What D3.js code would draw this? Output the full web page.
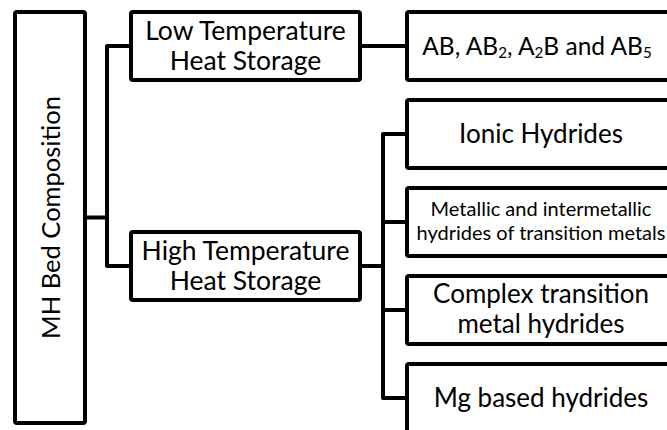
<!DOCTYPE html>
<html>
<head>
<meta charset="utf-8">
<script src="https://cdn.jsdelivr.net/npm/d3@7"></script>
<style>
  body { margin: 0; background: #fff; }
  svg { display: block; font-family: Lato, "Open Sans", sans-serif; }
</style>
</head>
<body>
<svg id="chart" width="667" height="430"></svg>
<script>
// tree content
var rootLabel = "MH Bed Composition";
var groupLabels = [
  ["Low Temperature", "Heat Storage"],
  ["High Temperature", "Heat Storage"]
];
// leaf lines; each line is a list of [text, isSubscript] pieces
var leafLabels = [
  [[["AB, AB", 0], ["2", 1], [", A", 0], ["2", 1], ["B and AB", 0], ["5", 1]]],
  [[["Ionic Hydrides", 0]]],
  [[["Metallic and intermetallic", 0]], [["hydrides of transition metals", 0]]],
  [[["Complex transition", 0]], [["metal hydrides", 0]]],
  [[["Mg based hydrides", 0]]]
];
var leafGroup = [0, 1, 1, 1, 1];

var svg = d3.select("#chart");
var sw = 4;

// vertical slots for the leaves
var y = d3.scaleBand()
  .domain(d3.range(leafLabels.length))
  .range([12, 432])
  .paddingInner(0.227)
  .paddingOuter(0);
var bh = y.bandwidth();

// columns
var x = d3.scaleOrdinal()
  .domain(["root", "rootEnd", "rootBus", "group", "groupEnd", "groupBus", "leaf", "leafEnd"])
  .range([15, 85, 107, 131, 360, 383, 407, 675]);

function cy(i) { return y(i) + bh / 2; }

function childrenOf(gi) {
  return leafGroup.map(function(v, i) { return v === gi ? i : -1; })
    .filter(function(i) { return i >= 0; });
}

// group centre = middle of its first and last leaf
var groupY = groupLabels.map(function(g, gi) {
  var idx = childrenOf(gi);
  return (cy(d3.min(idx)) + cy(d3.max(idx))) / 2;
});

var rootTop = 12, rootBottom = 423;
var rootMid = (rootTop + rootBottom) / 2;

var lines = svg.append("g")
  .attr("fill", "none")
  .attr("stroke", "#000")
  .attr("stroke-width", sw)
  .attr("stroke-linejoin", "round");

// root -> groups
lines.append("path").attr("d",
  "M" + x("rootEnd") + "," + rootMid + "H" + x("rootBus") +
  "M" + x("group") + "," + groupY[0] + "H" + x("rootBus") + "V" + groupY[1] + "H" + x("group"));

// groups -> leaves
groupLabels.forEach(function(g, gi) {
  var idx = childrenOf(gi);
  if (idx.length === 1) {
    lines.append("path").attr("d", "M" + x("groupEnd") + "," + groupY[gi] + "H" + x("leaf"));
  } else {
    lines.append("path").attr("d",
      "M" + x("groupEnd") + "," + groupY[gi] + "H" + x("groupBus"));
    lines.append("path").attr("d",
      "M" + x("leaf") + "," + cy(idx[0]) + "H" + x("groupBus") + "V" + cy(idx[idx.length - 1]) + "H" + x("leaf"));
    idx.slice(1, -1).forEach(function(i) {
      lines.append("path").attr("d", "M" + x("groupBus") + "," + cy(i) + "H" + x("leaf"));
    });
  }
});

function box(sel, x0, y0, w, h) {
  sel.append("rect")
    .attr("x", x0).attr("y", y0)
    .attr("width", w).attr("height", h)
    .attr("rx", 2)
    .attr("fill", "#fff")
    .attr("stroke", "#000")
    .attr("stroke-width", sw);
}

// root box
box(svg, x("root"), rootTop, x("rootEnd") - x("root"), rootBottom - rootTop);
svg.append("text")
  .attr("transform", "translate(" + ((x("root") + x("rootEnd")) / 2 + 9.5) + "," + rootMid + ") rotate(-90)")
  .attr("text-anchor", "middle")
  .attr("font-size", 25.5)
  .text(rootLabel);

// group boxes
groupLabels.forEach(function(g, gi) {
  var gy = groupY[gi];
  box(svg, x("group"), gy - bh / 2, x("groupEnd") - x("group"), bh);
  var t = svg.append("text")
    .attr("text-anchor", "middle")
    .attr("font-size", 26.5);
  g.forEach(function(line, li) {
    t.append("tspan")
      .attr("x", (x("group") + x("groupEnd")) / 2)
      .attr("y", gy - 6 + li * 30)
      .text(line);
  });
});

// leaf boxes
leafLabels.forEach(function(lab, i) {
  box(svg, x("leaf"), y(i), x("leafEnd") - x("leaf"), bh);
  var fs = i === 2 ? 20 : (i === 0 ? 24.5 : 26);
  var lh = i === 2 ? 24 : 30;
  var mx = (x("leaf") + x("leafEnd")) / 2 - (i === 0 ? 4 : 0);
  var top = cy(i) - (lab.length - 1) * lh / 2 + fs * 0.36 - (lab.length - 1);
  var t = svg.append("text")
    .attr("text-anchor", "middle")
    .attr("font-size", fs);
  lab.forEach(function(line, li) {
    var ln = t.append("tspan").attr("x", mx).attr("y", top + li * lh);
    line.forEach(function(p) {
      var s = ln.append("tspan").text(p[0]);
      if (p[1]) s.attr("font-size", fs * 0.62).attr("baseline-shift", "-22%");
    });
  });
});
</script>
</body>
</html>
